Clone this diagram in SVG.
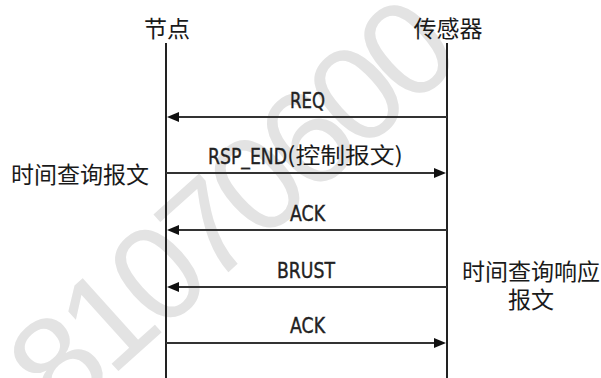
<svg xmlns="http://www.w3.org/2000/svg" width="601" height="378" viewBox="0 0 601 378">
  <style>
    .cjk { font-family: "Noto Sans CJK SC", "Noto Sans CJK JP", sans-serif; font-size: 23px; fill: #1a1a1a; }
    .lbl { font-family: "DejaVu Sans", "Liberation Sans", sans-serif; font-size: 21px; fill: #222; stroke: #222; stroke-width: 0.4px; }
    .life { stroke: #222; stroke-width: 2; fill: none; }
    .msg { stroke: #333; stroke-width: 2; fill: none; marker-end: url(#ah); }
    .wm { font-family: "Liberation Sans", sans-serif; font-size: 135px; fill: #e3e3e3; letter-spacing: -8px; }
  </style>
  <defs>
    <marker id="ah" viewBox="0 0 12 10" refX="9" refY="5" markerWidth="12" markerHeight="10" markerUnits="userSpaceOnUse" orient="auto">
      <path d="M0,0 L12,5 L0,10 z" fill="#111"/>
    </marker>
  </defs>
  <rect width="601" height="378" fill="#fff"/>

  <text class="wm" x="61" y="423" transform="rotate(-42 61 423)">81070600</text>

  <g id="node-jiedian">
    <text class="cjk" x="167" y="37" text-anchor="middle">节点</text>
    <line class="life" x1="166" y1="43" x2="166" y2="378"/>
  </g>
  <g id="node-sensor">
    <text class="cjk" x="448" y="37" text-anchor="middle">传感器</text>
    <line class="life" x1="447" y1="43" x2="447" y2="378"/>
  </g>
  <g id="note-query">
    <text class="cjk" x="11" y="183">时间查询报文</text>
  </g>
  <g id="note-response">
    <text class="cjk" x="531" y="280" text-anchor="middle">时间查询响应</text>
    <text class="cjk" x="531" y="308" text-anchor="middle">报文</text>
  </g>

  <g id="connectors">
    <line class="msg" x1="447" y1="117" x2="170" y2="117"/>
    <text class="lbl" x="290" y="108" textLength="35" lengthAdjust="spacingAndGlyphs">REQ</text>

    <line class="msg" x1="166" y1="173" x2="443" y2="173"/>
    <text class="lbl" x="208" y="164"><tspan textLength="79" lengthAdjust="spacingAndGlyphs">RSP_END</tspan><tspan x="287" y="163" class="cjk" style="font-size:22px;stroke:none" textLength="116" lengthAdjust="spacingAndGlyphs">(控制报文)</tspan></text>

    <line class="msg" x1="447" y1="230" x2="170" y2="230"/>
    <text class="lbl" x="290" y="221" textLength="35" lengthAdjust="spacingAndGlyphs">ACK</text>

    <line class="msg" x1="447" y1="287" x2="170" y2="287"/>
    <text class="lbl" x="277" y="278" textLength="58" lengthAdjust="spacingAndGlyphs">BRUST</text>

    <line class="msg" x1="166" y1="343" x2="443" y2="343"/>
    <text class="lbl" x="290" y="333" textLength="35" lengthAdjust="spacingAndGlyphs">ACK</text>
  </g>
</svg>
